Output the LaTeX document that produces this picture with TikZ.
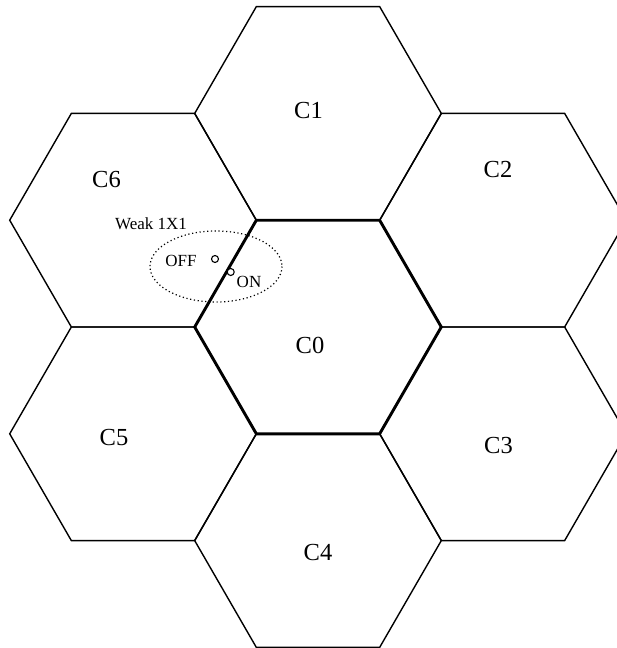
\documentclass[tikz,border=0pt]{standalone}
\usepackage{fontspec}
\setmainfont{Liberation Serif}
\usetikzlibrary{calc}
\begin{document}
\begin{tikzpicture}[x=1pt,y=-1pt,
  thinhex/.style={line width=1.4pt,line join=miter},
  boldhex/.style={line width=2.9pt,line join=miter},
  cellname/.style={font=\fontsize{24.5}{24.5}\selectfont,inner sep=0pt},
  smalltext/.style={font=\fontsize{17}{17}\selectfont,inner sep=0pt},
  station/.style={circle,draw,line width=1.1pt,minimum size=7pt,inner sep=0pt},
  zone/.style={draw,line width=1.2pt,dash pattern=on 1.2pt off 2.6pt}]
\useasboundingbox (0,0) rectangle (617,648);
\fill[white] (0,0) rectangle (617,648);
\clip (0,0) rectangle (617,648);
\def\s{123.3}
\def\hh{106.8}
\def\hs{61.65}
\foreach \n/\cx/\cy in {C0/318/327,C1/318/113.4,C2/503/220.2,C3/503/433.8,C4/318/540.6,C5/133/433.8,C6/133/220.2}{
  \coordinate (\n) at (\cx,\cy);
  \draw[thinhex] ($(\n)+(\s,0)$) -- ($(\n)+(\hs,\hh)$) -- ($(\n)+(-\hs,\hh)$) -- ($(\n)+(-\s,0)$) -- ($(\n)+(-\hs,-\hh)$) -- ($(\n)+(\hs,-\hh)$) -- cycle;
}
\draw[boldhex] ($(C0)+(\s,0)$) -- ($(C0)+(\hs,\hh)$) -- ($(C0)+(-\hs,\hh)$) -- ($(C0)+(-\s,0)$) -- ($(C0)+(-\hs,-\hh)$) -- ($(C0)+(\hs,-\hh)$) -- cycle;
% labels
\node[cellname] (l0) at (310,345.5) {C0};
\node[cellname] (l1) at (308.5,111) {C1};
\node[cellname] (l2) at (498,169.5) {C2};
\node[cellname] (l3) at (498.5,445.5) {C3};
\node[cellname] (l4) at (318,553) {C4};
\node[cellname] (l5) at (114,437.5) {C5};
\node[cellname] (l6) at (106.5,179.5) {C6};
% weak zone
\draw[zone] (216,266.5) ellipse [x radius=66, y radius=35.5];
\node[smalltext,anchor=base] (weak) at (151,229) {Weak 1X1};
\node[smalltext] (off) at (181,261) {OFF};
\node[smalltext] (on) at (249,282) {ON};
\node[station,fill=white] (soff) at (215,259) {};
\node[station,fill=white] (son) at (230.7,272) {};
\end{tikzpicture}
\end{document}
